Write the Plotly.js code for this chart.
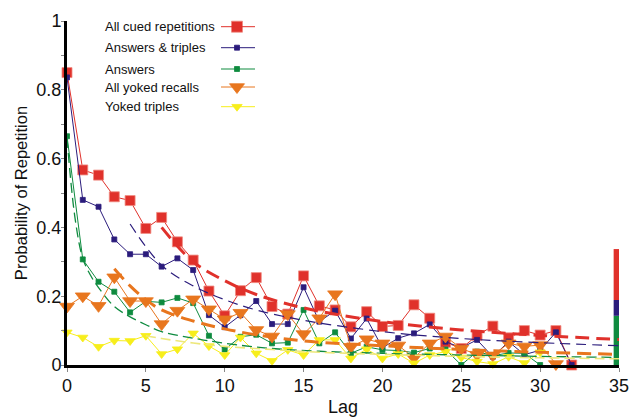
<!DOCTYPE html>
<html>
<head>
<meta charset="utf-8">
<script src="https://cdn.plot.ly/plotly-3.0.1.min.js"></script>
<style>html,body{margin:0;padding:0;background:#fff;}#chart{width:630px;height:417px;}</style>
</head>
<body>
<div id="chart"></div>
<script>
// ---------- data ----------
const lags = [0,1,2,3,4,5,6,7,8,9,10,11,12,13,14,15,16,17,18,19,20,21,22,23,24,25,26,27,28,29,30,31,32];
const allCued = [0.85,0.567,0.552,0.489,0.478,0.397,0.429,0.358,0.305,0.215,0.143,0.216,0.254,0.17,0.148,0.259,0.172,0.16,0.111,0.155,0.112,0.115,0.175,0.136,0.066,0.048,0.086,0.113,0.079,0.10,0.087,0.10,0.0];
const answersTriples = [0.836,0.48,0.46,0.365,0.322,0.322,0.286,0.31,0.276,0.145,0.11,0.145,0.186,0.119,0.119,0.226,0.126,0.158,0.077,0.135,0.05,0.078,0.092,0.118,0.068,0.05,0.073,0.024,0.068,0.03,0.043,0.095,0.0];
const answers = [0.665,0.307,0.242,0.213,0.153,0.185,0.182,0.195,0.18,0.085,0.045,0.082,0.088,0.063,0.065,0.16,0.063,0.095,0.034,0.053,0.044,0.042,0.036,0.048,0.045,0.0,0.039,0.027,0.035,0.034,0.0,null,null];
const yokedRecalls = [0.17,0.2,0.172,0.255,0.186,0.186,0.119,0.158,0.191,0.162,0.133,0.152,0.102,0.083,0.148,0.09,0.136,0.206,0.053,0.075,0.063,0.057,0.021,0.063,0.083,0.048,0.03,0.028,0.063,0.054,0.058,0.003,null];
const yokedTriples = [0.095,0.08,0.053,0.071,0.07,0.085,0.032,0.046,0.092,0.055,0.029,0.08,0.034,0.012,0.044,0.029,0.073,0.073,0.019,0.046,0.019,0.032,0.005,0.029,0.039,0.022,0.01,0.003,0.024,0.006,0.037,null,null];

// fitted (dashed) curves
const fitCuedLag = [6,8,10,12,15,20,25,30,35];
const fitCuedVal = [0.40,0.30,0.245,0.205,0.166,0.126,0.102,0.086,0.074];
const fitATLag = [4,6,8,10,12,15,20,25,30,35];
const fitATVal = [0.41,0.29,0.23,0.19,0.16,0.13,0.097,0.077,0.065,0.056];
const fitAnsLag = [0,0.5,1,1.5,2,3,4,5,6,8,10,13,16,20,25,30,35];
const fitAnsVal = [0.66,0.43,0.31,0.26,0.225,0.17,0.14,0.117,0.097,0.078,0.063,0.048,0.04,0.034,0.029,0.025,0.022];
const fitYRLag = [3,4,5,6,8,10,12,15,20,25,30,35];
const fitYRVal = [0.28,0.23,0.19,0.16,0.128,0.105,0.088,0.07,0.056,0.045,0.037,0.031];
const fitYTLag = [5,6,8,10,13,16,20,25,30,35];
const fitYTVal = [0.085,0.077,0.064,0.054,0.045,0.037,0.031,0.025,0.021,0.018];

// stacked end bars at lag 35 (segment bottoms / tops)
const barLeftBottoms = [0, 0.143, 0.189];
const barLeftTops    = [0.143, 0.189, 0.337];
const barRightBottoms = [0, 0.041];
const barRightTops    = [0.041, 0.15];

const xTickVals = [0,5,10,15,20,25,30,35];
const yTickVals = [0,0.2,0.4,0.6,0.8,1];
const yTickText = ['0','0.2','0.4','0.6','0.8','1'];
const legendLabels = ['All cued repetitions','Answers &amp; triples','Answers','All yoked recalls','Yoked triples'];

// ---------- styling ----------
const C = {red:'#E0312B', blue:'#2B1C7C', green:'#0E8B3F', orange:'#E8761E', yellow:'#F7EE1B', yellowFit:'#EDE77A'};
const FONT = '"Liberation Sans", Arial, Helvetica, sans-serif';

const L=67, R=11, T=21, B=52, W=630, H=417;
const pw = W-L-R, ph = H-T-B;
const X0=0, X1=35, Y0=0, Y1=1;
function pxToX(px){ return X0 + (px-L)/pw*(X1-X0); }
function pyToY(py){ return Y0 + (H-B-py)/ph*(Y1-Y0); }

const series = [
  {y: allCued, color:C.red, sym:'square', size:10, lw:1, mlc:'#F08A80'},
  {y: answersTriples, color:C.blue, sym:'square', size:5, lw:1, mlc:C.blue},
  {y: answers, color:C.green, sym:'square', size:5, lw:1, mlc:C.green},
  {y: yokedRecalls, color:C.orange, sym:'triangle-down', size:13, lw:1, mlc:C.orange},
  {y: yokedTriples, color:C.yellow, sym:'triangle-down', size:9, lw:1, mlc:C.yellow}
];

const traces = [];
series.forEach(s => {
  traces.push({
    type:'scatter', mode:'lines+markers', x:lags, y:s.y, cliponaxis:false, showlegend:false,
    line:{color:s.color, width:s.lw},
    marker:{symbol:s.sym, size:s.size, color:s.color, line:{color:s.mlc, width:0.8}},
    connectgaps:false
  });
});

const fits = [
  {x:fitCuedLag, y:fitCuedVal, color:C.red, w:3, dash:'14px,7px'},
  {x:fitATLag, y:fitATVal, color:C.blue, w:1.2, dash:'10px,6px'},
  {x:fitAnsLag, y:fitAnsVal, color:C.green, w:1.3, dash:'10px,5px'},
  {x:fitYRLag, y:fitYRVal, color:C.orange, w:3, dash:'14px,7px'},
  {x:fitYTLag, y:fitYTVal, color:C.yellowFit, w:1.6, dash:'10px,5px'}
];
fits.forEach(f => {
  traces.push({type:'scatter', mode:'lines', x:f.x, y:f.y, cliponaxis:false, showlegend:false,
    line:{color:f.color, width:f.w, dash:f.dash, shape:'spline', smoothing:1}});
});

// end bars
const leftColors = [C.green, C.blue, C.red];
const rightColors = [C.yellow, C.orange];
barLeftBottoms.forEach((b,i) => {
  traces.push({type:'bar', x:[35], y:[barLeftTops[i]-b], base:[b], width:[0.34], offset:[-0.34],
    marker:{color:leftColors[i], line:{width:0}}, showlegend:false, cliponaxis:false});
});
barRightBottoms.forEach((b,i) => {
  traces.push({type:'bar', x:[35], y:[barRightTops[i]-b], base:[b], width:[0.32], offset:[0],
    marker:{color:rightColors[i], line:{width:0}}, showlegend:false, cliponaxis:false});
});

// ---------- custom legend (text left, symbol right) ----------
const legRowsPy = [26.7, 47.7, 69, 87, 106.7];
const legTextPx = 103, legLine0 = 221, legLine1 = 255, legMark = 237;
const shapes = [];
const annotations = [];
legendLabels.forEach((lab,i) => {
  const yy = pyToY(legRowsPy[i]);
  annotations.push({xref:'x', yref:'y', x:pxToX(legTextPx), y:yy, text:lab, showarrow:false,
    xanchor:'left', yanchor:'middle', font:{family:FONT, size:13, color:'#111'}});
  shapes.push({type:'line', xref:'x', yref:'y', x0:pxToX(legLine0), x1:pxToX(legLine1), y0:yy, y1:yy,
    line:{color:series[i].color, width:1}});
  traces.push({type:'scatter', mode:'markers', x:[pxToX(legMark)], y:[yy], cliponaxis:false, showlegend:false,
    marker:{symbol:series[i].sym, size:series[i].size+ (i===0?1:0), color:series[i].color, line:{color:series[i].mlc, width:0.8}}});
});

const layout = {
  width:W, height:H,
  margin:{l:L, r:R, t:T, b:B, pad:0},
  paper_bgcolor:'#fff', plot_bgcolor:'#fff',
  showlegend:false,
  barmode:'overlay',
  font:{family:FONT, color:'#111'},
  xaxis:{
    range:[X0,X1], tickvals:xTickVals, ticks:'outside', ticklen:4, tickwidth:1, tickcolor:'#888',
    showline:true, linecolor:'#000', linewidth:3, showgrid:false, zeroline:false,
    ticklabelstandoff:-2,
    tickfont:{family:FONT, size:18, color:'#111'},
    title:{text:'Lag', font:{family:FONT, size:18, color:'#111'}, standoff:6}
  },
  yaxis:{
    range:[Y0,Y1], tickvals:yTickVals, ticktext:yTickText, ticks:'outside', ticklen:3, tickwidth:1, tickcolor:'#888',
    minor:{tickvals:[0.1,0.3,0.5,0.7,0.9], ticks:'outside', ticklen:3, tickcolor:'#888'},
    showline:true, linecolor:'#000', linewidth:3, showgrid:false, zeroline:false,
    ticklabelstandoff:-4,
    tickfont:{family:FONT, size:18, color:'#111'},
    title:{text:'Probability of Repetition', font:{family:FONT, size:16.5, color:'#111'}, standoff:5}
  },
  shapes:shapes,
  annotations:annotations
};

Plotly.newPlot('chart', traces, layout, {staticPlot:true, displayModeBar:false});
</script>
</body>
</html>
